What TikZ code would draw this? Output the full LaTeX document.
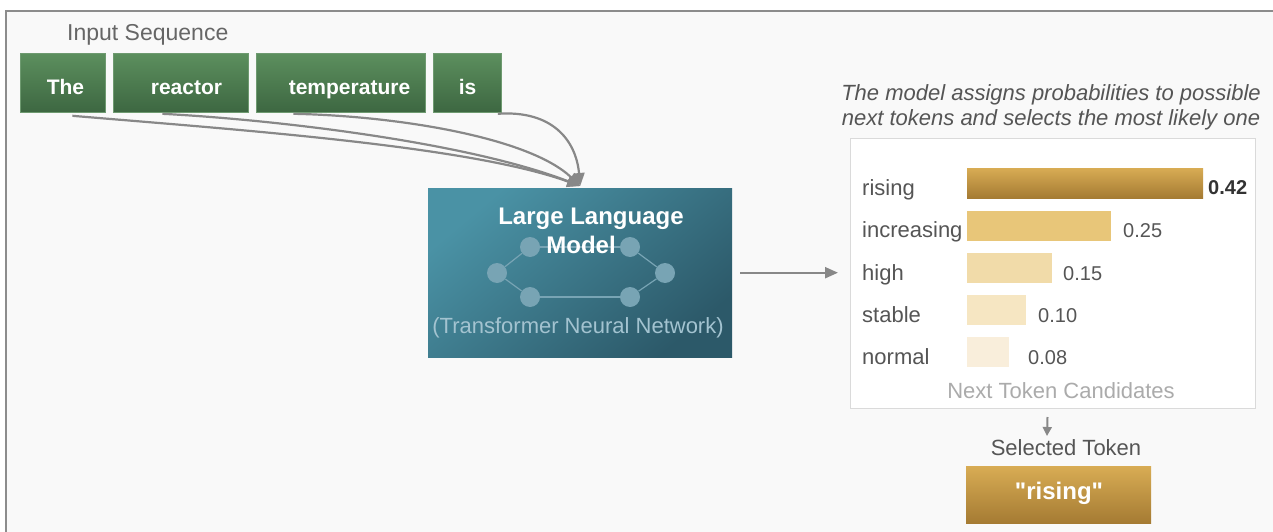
\documentclass[tikz,border=0pt]{standalone}
\usepackage{fontspec}
\setmainfont{Liberation Sans}[Ligatures=TeXOff]
\usetikzlibrary{arrows.meta,calc}

\definecolor{framegrey}{HTML}{8C8C8C}
\definecolor{panelbg}{HTML}{F9F9F9}
\definecolor{tokA}{HTML}{5C8F5E}
\definecolor{tokB}{HTML}{3D6741}
\definecolor{tokedge}{HTML}{6E9A70}
\definecolor{llmA}{HTML}{4A92A5}
\definecolor{llmB}{HTML}{2C5969}
\definecolor{netc}{HTML}{78A4B4}
\definecolor{subtl}{HTML}{A3C3D0}
\definecolor{goldA}{HTML}{D8AC54}
\definecolor{goldB}{HTML}{A57B33}
\definecolor{barB}{HTML}{E8C679}
\definecolor{barC}{HTML}{F1DBA9}
\definecolor{barD}{HTML}{F6E6C2}
\definecolor{barE}{HTML}{F9EEDB}
\definecolor{labgrey}{HTML}{555555}
\definecolor{headgrey}{HTML}{666666}
\definecolor{faintgrey}{HTML}{ABABAB}
\definecolor{flowgrey}{HTML}{888888}
\definecolor{chartedge}{HTML}{DADADA}

\newcommand\setpx[1]{\fontsize{#1}{#1}\selectfont}

\begin{document}
\begin{tikzpicture}[x=1pt,y=-1pt,
  txt/.style={inner sep=0pt, font=\setpx{22}, text=labgrey},
  toktxt/.style={inner sep=0pt, font=\bfseries\setpx{21}, text=white, anchor=base},
  ttl/.style={inner sep=0pt, font=\bfseries\setpx{24}, text=white, anchor=base},
  tokbox/.style={draw=tokedge, line width=0.8pt, top color=tokA, bottom color=tokB,
    minimum height=59pt, inner sep=0pt, anchor=north west},
  goldbox/.style={top color=goldA, bottom color=goldB, inner sep=0pt, anchor=north west},
  bar/.style={inner sep=0pt, minimum height=30pt, anchor=west},
  netdot/.style={circle, fill=netc, minimum size=20pt, inner sep=0pt},
  netline/.style={draw=netc, line width=1.2pt},
  flow/.style={draw=flowgrey, line width=2.2pt, -{Triangle[length=13pt,width=11pt]}},
  smallflow/.style={draw=flowgrey, line width=2pt, -{Triangle[length=9pt,width=9pt]}}]

\useasboundingbox (0,0) rectangle (1273,532);

% panel with its frame running off the right and bottom edges
\begin{scope}
  \clip (0,0) rectangle (1273,532);
  \fill[white] (0,0) rectangle (1273,532);
  \draw[draw=framegrey, line width=2pt, fill=panelbg] (6,11) rectangle (1290,550);
\end{scope}

% input tokens
\node[txt, text=headgrey, font=\setpx{23}, anchor=base west] (inhead) at (67,41) {Input Sequence};
\node[tokbox, minimum width=85pt]  (t1) at (20,53)  {};
\node[tokbox, minimum width=135pt] (t2) at (113,53) {};
\node[tokbox, minimum width=169pt] (t3) at (256,53) {};
\node[tokbox, minimum width=68pt]  (t4) at (433,53) {};
\node[toktxt] (w1) at (65.5,95)  {The};
\node[toktxt] (w2) at (186.5,95) {reactor};
\node[toktxt] (w3) at (349.5,95) {temperature};
\node[toktxt] (w4) at (467.5,95) {is};

% language model block
\node[inner sep=0pt, minimum width=304pt, minimum height=169pt, anchor=north west,
      top color=llmA, bottom color=llmB, shading angle=40] (llm) at (428,188) {};
\node[netdot] (n1) at (530,247) {};
\node[netdot] (n2) at (630,247) {};
\node[netdot] (n3) at (497,273) {};
\node[netdot] (n4) at (665,273) {};
\node[netdot] (n5) at (530,297) {};
\node[netdot] (n6) at (630,297) {};
\draw[netline] (n1) -- (n2);
\draw[netline] (n1) -- (n3);
\draw[netline] (n3) -- (n5);
\draw[netline] (n5) -- (n6);
\draw[netline] (n6) -- (n4);
\draw[netline] (n4) -- (n2);
\node[ttl] (ttl1) at (591,224) {Large Language};
\node[ttl] (ttl2) at (581,253) {Model};
\node[txt, text=subtl, anchor=base] (sub) at (578,333) {(Transformer Neural Network)};

% token connectors into the model
\coordinate (tip) at ([yshift=2pt]llm.north);
\draw[flow] ([xshift=9.5pt,yshift=-3pt]t1.south) .. controls (240,130) and (470,146) .. (tip);
\draw[flow] ([xshift=-18.5pt,yshift=-1pt]t2.south) .. controls (280,120) and (470,143) .. (tip);
\draw[flow] ([xshift=-47.5pt,yshift=-1pt]t3.south) .. controls (400,116) and (530,138) .. (tip);
\draw[flow] ([xshift=-4pt,yshift=-1pt]t4.south east) .. controls (552,110) and (576,140) .. (tip);

% caption
\node[txt, font=\itshape\setpx{22}, anchor=base] (cap1) at (1051,101) {The model assigns probabilities to possible};
\node[txt, font=\itshape\setpx{22}, anchor=base] (cap2) at (1051,125) {next tokens and selects the most likely one};

% candidate chart
\node[draw=chartedge, fill=white, line width=1pt, minimum width=405pt, minimum height=270pt,
      anchor=north west, inner sep=0pt] (chart) at (850,138) {};
\coordinate (llmout) at ([xshift=8pt]llm.east);
\coordinate (chartin) at ([xshift=-12pt]chart.west);
\draw[flow] (llmout) -- (llmout -| chartin);

\node[bar, minimum width=236pt, top color=goldA, bottom color=goldB] (bar1) at (967,183) {};
\node[bar, minimum width=144pt, fill=barB] (bar2) at (967,225.5) {};
\node[bar, minimum width=85pt,  fill=barC] (bar3) at (967,268) {};
\node[bar, minimum width=59pt,  fill=barD] (bar4) at (967,310) {};
\node[bar, minimum width=42pt,  fill=barE] (bar5) at (967,352) {};

\node[txt, anchor=base west] (lab1) at (862,195)   {rising};
\node[txt, anchor=base west] (lab2) at (862,237.5) {increasing};
\node[txt, anchor=base west] (lab3) at (862,280)   {high};
\node[txt, anchor=base west] (lab4) at (862,322)   {stable};
\node[txt, anchor=base west] (lab5) at (862,364)   {normal};

\node[txt, font=\bfseries\setpx{20}, text=black!80, anchor=base west] (val1) at (1208,194) {0.42};
\node[txt, font=\setpx{20}, anchor=base west] (val2) at (1123,237.5) {0.25};
\node[txt, font=\setpx{20}, anchor=base west] (val3) at (1063,280)   {0.15};
\node[txt, font=\setpx{20}, anchor=base west] (val4) at (1038,322)   {0.10};
\node[txt, font=\setpx{20}, anchor=base west] (val5) at (1028,364)   {0.08};

\node[txt, text=faintgrey, anchor=base] (cand) at (1061,398) {Next Token Candidates};

% selected token
\coordinate (selin) at (1047,436);
\draw[smallflow] ([xshift=-5.5pt,yshift=-8pt]chart.south) -- (selin);
\node[txt, anchor=base] (sellab) at (1066,455) {Selected Token};
\node[goldbox, minimum width=185pt, minimum height=57pt] (sel) at (966,466) {};
\node[ttl] (seltxt) at (1059,499) {"rising"};

\end{tikzpicture}
\end{document}
